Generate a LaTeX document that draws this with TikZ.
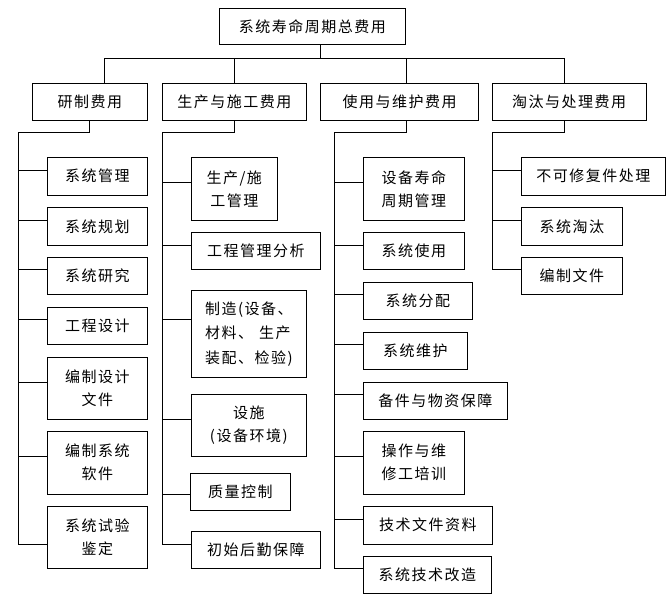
\documentclass[tikz,border=0pt]{standalone}
\usepackage{fontspec}
\setmainfont{Noto Sans CJK SC}[LetterSpace=10]
\tikzset{
  box/.style={draw, line width=1pt, inner sep=0pt, outer sep=0pt, align=center,
    font=\fontsize{15pt}{23pt}\selectfont},
  conn/.style={line width=1pt}
}
\newcommand\mybox[6]{\node[box, minimum width={#4-#2}, minimum height={#5-#3}] (#1) at ({(#2+#4)/2},{(#3+#5)/2}) {#6};}
\begin{document}
\begin{tikzpicture}[x=1pt,y=-1pt]
\fill[white] (0,0) rectangle (671,599);
\useasboundingbox (0,0) rectangle (671,599);
\mybox{T}{219.3}{8.3}{405.3}{45}{系统寿命周期总费用}
\mybox{A}{32.3}{83.3}{147.3}{120}{研制费用}
\mybox{B}{162.3}{83.3}{306.3}{120}{生产与施工费用}
\mybox{C}{320.7}{83.3}{478.3}{120}{使用与维护费用}
\mybox{D}{492.3}{83.3}{646}{120}{淘汰与处理费用}
% A children
\mybox{A1}{47.3}{157.3}{147.3}{195}{系统管理}
\mybox{A2}{47.3}{207.3}{147.3}{245.3}{系统规划}
\mybox{A3}{47.3}{257.3}{147.3}{294.3}{系统研究}
\mybox{A4}{47.3}{307.3}{147.3}{344}{工程设计}
\mybox{A5}{47.3}{357.3}{147.3}{419}{编制设计\\文件}
\mybox{A6}{47.3}{431.3}{147.3}{494}{编制系统\\软件}
\mybox{A7}{47.3}{506.3}{147.3}{568}{系统试验\\鉴定}
% B children
\mybox{B1}{191.3}{157.3}{277.3}{220.3}{生产/施\\工管理}
\mybox{B2}{191.3}{232.3}{320.3}{269}{工程管理分析}
\node[box, align=left, minimum width=115pt, minimum height=87.3pt,
  font=\fontsize{15pt}{24.5pt}\selectfont] (B3) at (248.8,333.65)
  {制造(设备、\\材料、\hspace{6pt}生产\\装配、检验)};
\mybox{B4}{191.3}{394.3}{306.3}{456}{设施\\(设备环境)}
\mybox{B5}{190.3}{473.3}{290.3}{510}{质量控制}
\mybox{B6}{191.3}{531.3}{320.3}{568}{初始后勤保障}
% C children
\mybox{C1}{363.3}{157.3}{464.3}{220.3}{设备寿命\\周期管理}
\mybox{C2}{363.3}{232.3}{464.3}{269}{系统使用}
\mybox{C3}{363.3}{282.3}{472.3}{319}{系统分配}
\mybox{C4}{363.3}{332.3}{467.3}{369.3}{系统维护}
\mybox{C5}{363.3}{382.3}{507.3}{419}{备件与物资保障}
\mybox{C6}{363.3}{431.3}{464.3}{494}{操作与维\\修工培训}
\mybox{C7}{363.3}{506.3}{492.3}{544}{技术文件资料}
\mybox{C8}{363.3}{556.3}{491.3}{593}{系统技术改造}
% D children
\mybox{D1}{521.3}{157.3}{665.3}{195}{不可修复件处理}
\mybox{D2}{521.3}{207.3}{622.3}{245.3}{系统淘汰}
\mybox{D3}{521.3}{257.3}{622.3}{294.3}{编制文件}
% top level connectors
\coordinate (bus) at (320.7,58.3);
\draw[conn] ([xshift=8.4pt]T.south) -- (bus);
\draw[conn] ([xshift=14.5pt]A.north) |- (bus) -| ([xshift=-4.85pt]D.north);
\draw[conn] (B.north) -- (B.north |- bus);
\draw[conn] ([xshift=7.2pt]C.north) -- ([xshift=7.2pt]C.north |- bus);
% trunks
\coordinate (ta) at (18.3,132.3);
\coordinate (tb) at (162.3,132.3);
\coordinate (tc) at (334.3,132.3);
\coordinate (td) at (492.3,132.3);
\draw[conn] (A.south) |- (ta) |- ([yshift=-7.15pt]A7.west);
\draw[conn] (B.south) |- (tb) |- ([yshift=5.35pt]B6.west);
\draw[conn] ([xshift=7.2pt]C.south) |- (tc) |- ([yshift=6.65pt]C8.west);
\draw[conn] ([xshift=-4.85pt]D.south) |- (td) |- ([yshift=6.8pt]D3.west);
% branches
\foreach \n/\s/\t in {A1/5.85/ta, A2/6.3/ta, A3/6.8/ta, A4/6.3/ta, A5/5.85/ta, A6/6.65/ta,
  B1/6.5/tb, B2/5.35/tb, B3/14.35/tb, B4/6.15/tb, B5/-2.35/tb,
  C1/6.5/tc, C2/5.35/tc, C3/6.35/tc, C4/6.8/tc, C5/6.65/tc, C6/6.65/tc, C7/5.85/tc,
  D1/5.85/td, D2/6.3/td}{
  \path ([yshift=\s pt]\n.west) coordinate (p);
  \draw[conn] (p) -- (p -| \t);
}
\end{tikzpicture}
\end{document}
